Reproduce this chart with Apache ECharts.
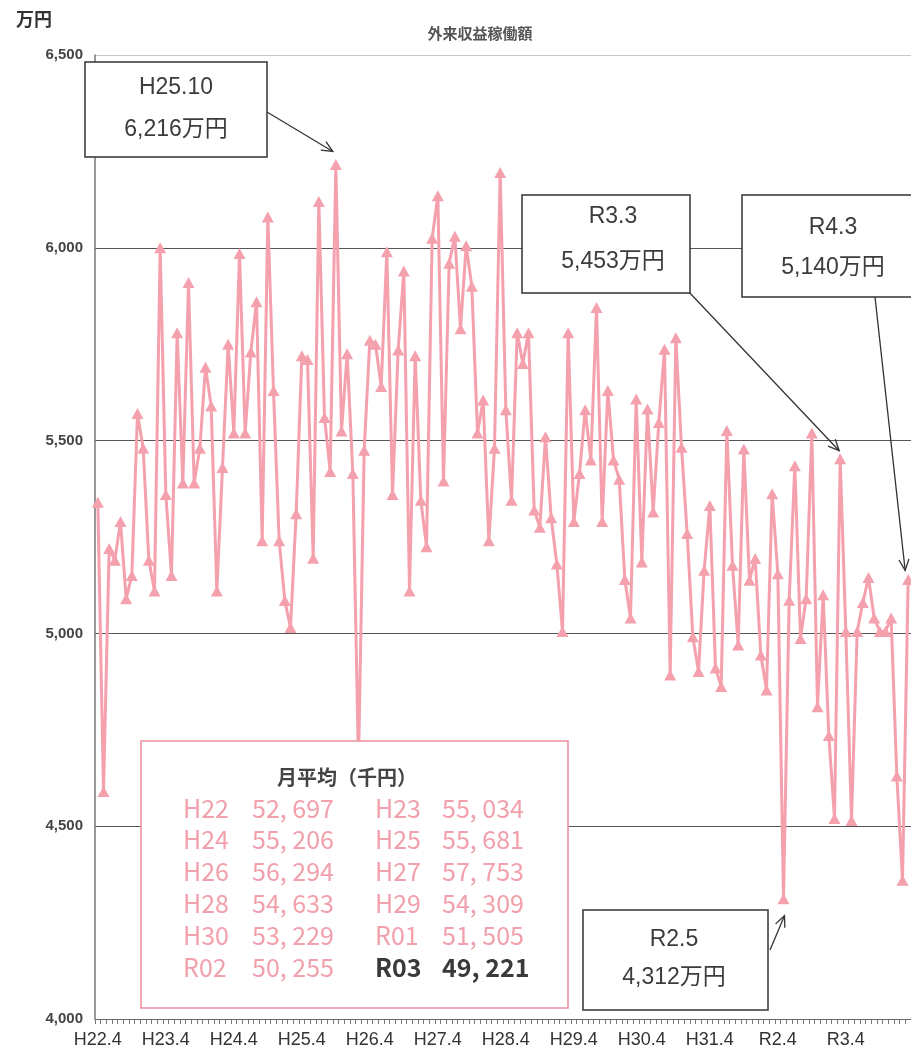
<!DOCTYPE html>
<html><head><meta charset="utf-8">
<script src="https://cdn.jsdelivr.net/npm/echarts/dist/echarts.min.js"></script>
<style>html,body{margin:0;padding:0;background:#fff}#c{width:911px;height:1061px}</style>
</head><body><div id="c"></div>
<script>
// ---------- data ----------
const chartTitle = '外来収益稼働額';
const unitLabel = '万円';
const fiscalYears = [2010, 2011, 2012, 2013, 2014, 2015, 2016, 2017, 2018, 2019, 2020, 2021];
// monthly values (万円), April 2010 (H22.4) .. March 2022 (R4.3)
const valuesH22 = [5340, 4590, 5220, 5190, 5290, 5090, 5150, 5570, 5480, 5190, 5110, 6000];
const valuesH23 = [5360, 5150, 5780, 5390, 5910, 5390, 5480, 5690, 5590, 5110, 5430, 5750];
const valuesH24 = [5520, 5985, 5520, 5730, 5860, 5240, 6080, 5630, 5240, 5085, 5015, 5310];
const valuesH25 = [5720, 5710, 5195, 6120, 5560, 5420, 6216, 5525, 5725, 5415, 4660, 5475];
const valuesH26 = [5760, 5750, 5640, 5990, 5360, 5735, 5940, 5110, 5720, 5345, 5225, 6025];
const valuesH27 = [6135, 5395, 5960, 6030, 5790, 6005, 5900, 5520, 5605, 5240, 5480, 6195];
const valuesH28 = [5580, 5345, 5780, 5700, 5780, 5320, 5275, 5510, 5300, 5180, 5005, 5780];
const valuesH29 = [5290, 5415, 5580, 5450, 5845, 5290, 5630, 5450, 5400, 5140, 5040, 5608];
const valuesH30 = [5185, 5582, 5315, 5547, 5737, 4892, 5767, 5483, 5259, 4991, 4901, 5164];
const valuesR01 = [5332, 4910, 4862, 5526, 5177, 4970, 5478, 5138, 5194, 4944, 4853, 5362];
const valuesR02 = [5155, 4312, 5086, 5435, 4987, 5090, 5520, 4810, 5100, 4735, 4520, 5453];
const valuesR03 = [5005, 4515, 5005, 5080, 5145, 5040, 5005, 5005, 5040, 4630, 4360, 5140];
const yMin = 4000, yMax = 6500, yStep = 500;
// monthly averages table (千円)
const avgLabels = ['H22', 'H23', 'H24', 'H25', 'H26', 'H27', 'H28', 'H29', 'H30', 'R01', 'R02', 'R03'];
const avgValues = [52697, 55034, 55206, 55681, 56294, 57753, 54633, 54309, 53229, 51505, 50255, 49221];
const avgTitle = '月平均（千円）';
// callouts: category index + label
const calloutIndex = [42, 131, 143, 121];
const calloutLabel = ['H25.10', 'R3.3', 'R4.3', 'R2.5'];

// ---------- build ----------
const values = [].concat(valuesH22, valuesH23, valuesH24, valuesH25, valuesH26, valuesH27,
  valuesH28, valuesH29, valuesH30, valuesR01, valuesR02, valuesR03);
function eraLabel(y, m) {
  if (y < 2019 || (y === 2019 && m <= 4)) return 'H' + (y - 1988) + '.' + m;
  return 'R' + (y - 2018) + '.' + m;
}
const categories = [];
fiscalYears.forEach(fy => {
  for (let k = 0; k < 12; k++) {
    const m = (k + 3) % 12 + 1;
    categories.push(eraLabel(m >= 4 ? fy : fy + 1, m));
  }
});
const fmt = v => String(v).replace(/\B(?=(\d{3})+(?!\d))/g, ',');

const PINK = '#f4a1ad';
const chart = echarts.init(document.getElementById('c'), null, {renderer: 'canvas'});
chart.setOption({
  animation: false,
  backgroundColor: '#fff',
  grid: {left: 95, top: 55, width: 819, height: 964},
  xAxis: {
    type: 'category', data: categories, boundaryGap: true,
    axisLine: {lineStyle: {color: '#666', width: 1.2}},
    axisTick: {show: true, interval: 0, length: 5, lineStyle: {color: '#777'}},
    axisLabel: {interval: 11, margin: 12, fontSize: 18, color: '#333', fontFamily: 'Liberation Sans'},
    splitLine: {show: false}
  },
  yAxis: {
    type: 'value', min: yMin, max: yMax, interval: yStep,
    axisLine: {show: true, lineStyle: {color: '#777', width: 1.5}},
    axisTick: {show: false},
    axisLabel: {formatter: v => fmt(v), fontSize: 15, fontWeight: 'bold', color: '#444', margin: 12, fontFamily: 'Liberation Sans'},
    splitLine: {lineStyle: {color: ['#555', '#555', '#555', '#555', '#555', '#c8c8c8'], width: 1}}
  },
  series: [{
    type: 'line', data: values, symbol: 'triangle', symbolSize: [12, 11], showAllSymbol: true,
    lineStyle: {color: PINK, width: 3}, itemStyle: {color: PINK}, z: 2
  }]
});

// ---------- annotations ----------
const G = [];
const FONT_LAT = '"Liberation Sans", "Noto Sans CJK JP", sans-serif';
const FONT_JP = '"Noto Sans CJK JP", sans-serif';
function rect(x, y, w, h, stroke, lw) {
  G.push({type: 'rect', shape: {x, y, width: w, height: h}, style: {fill: '#fff', stroke, lineWidth: lw}, z: 100});
}
function text(x, y, t, font, fill, align) {
  G.push({type: 'text', x, y, z: 101,
    style: {text: t, font, fill, textAlign: align || 'center', textVerticalAlign: 'middle',
      align: align || 'center', verticalAlign: 'middle'}});
}
function arrow(x1, y1, x2, y2) {
  const dx = x2 - x1, dy = y2 - y1, L = Math.hypot(dx, dy), ux = dx / L, uy = dy / L;
  const hx = x2 - ux * 11, hy = y2 - uy * 11;
  G.push({type: 'line', shape: {x1, y1, x2, y2}, style: {stroke: '#333', lineWidth: 1.3}, z: 100});
  G.push({type: 'polyline', shape: {points: [[hx - uy * 5, hy + ux * 5], [x2, y2], [hx + uy * 5, hy - ux * 5]]},
    style: {stroke: '#333', lineWidth: 1.3, fill: null}, z: 100});
}
// title & unit
text(480, 33, chartTitle, 'bold 15px ' + FONT_JP, '#555');
text(34, 19, unitLabel, 'bold 18px ' + FONT_JP, '#333');

// callout boxes (layout) [x, y, w, h, line1 y, line2 y, arrow start x, y, tip offset dx, dy]
const calloutLayout = [
  [85, 62, 182, 95, 88, 130, 267, 112, -3, -13],
  [522, 195, 168, 98, 217, 262, 688, 291, -1, -8],
  [742, 195, 185, 102, 228, 268, 875, 297, -3, -9],
  [583, 910, 185, 100, 940, 978, 770, 950, 1, 17]
];
calloutIndex.forEach((idx, k) => {
  const L = calloutLayout[k];
  const p = chart.convertToPixel({seriesIndex: 0}, [idx, values[idx]]);
  arrow(L[6], L[7], p[0] + L[8], p[1] + L[9]);
  rect(L[0], L[1], L[2], L[3], '#333', 1.5);
  const cx = L[0] + 91;
  text(cx, L[4], calloutLabel[k], '23px ' + FONT_LAT, '#3c3c3c');
  text(cx, L[5], fmt(values[idx]) + '万円', '23px ' + FONT_LAT, '#3c3c3c');
});

// average table
rect(141, 741, 427, 267, '#ec93a0', 1.6);
text(347, 777, avgTitle, 'bold 20px ' + FONT_JP, '#444');
avgLabels.forEach((lab, i) => {
  const row = Math.floor(i / 2), col = i % 2;
  const y = 808 + row * 31.8;
  const last = i === avgLabels.length - 1;
  const color = last ? '#3a3a3a' : '#f2a0ab';
  const w = last ? 'bold ' : '';
  const vs = String(avgValues[i]).replace(/\B(?=(\d{3})+(?!\d))/g, ', ');
  text(col ? 375 : 183, y, lab, w + '25px ' + FONT_JP, color, 'left');
  text(col ? 442 : 252, y, vs, w + '25px ' + FONT_JP, color, 'left');
});
chart.setOption({graphic: G});
</script>
</body></html>
